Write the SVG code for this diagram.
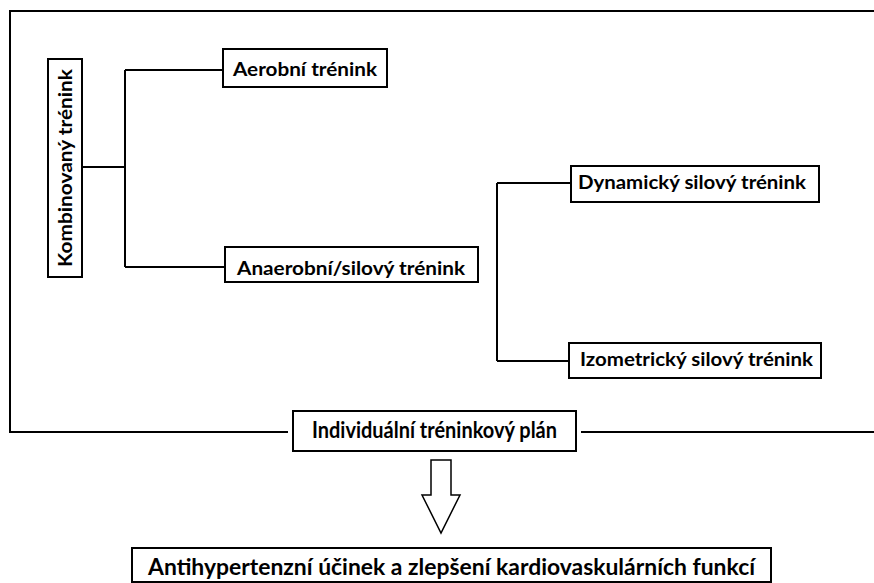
<svg xmlns="http://www.w3.org/2000/svg" width="874" height="583" viewBox="0 0 874 583">
<style>
.box{fill:#fff;stroke:#000;stroke-width:2}
.t{font-family:Lato,"Open Sans","Liberation Sans",sans-serif;font-weight:bold;font-size:19px;fill:#000}
.tb{font-family:Lato,"Open Sans","Liberation Sans",sans-serif;font-weight:bold;font-size:23px;fill:#000}
.ln{fill:none;stroke:#000;stroke-width:2}
</style>
<rect width="874" height="583" fill="#fff"/>
<g id="frame"><path class="ln" d="M874,11 H10 V432 H288 M581,432 H874"/></g>
<g id="connectors">
<path class="ln" d="M83,167 H125 M125,70 V267 M125,70 H223 M125,267 H225"/>
<path class="ln" d="M497,183 V361 M497,183 H571 M497,361 H569"/>
<polygon points="431,460 451,460 451,495 460,495 441,533 422,495 431,495" fill="#fff" stroke="#000" stroke-width="1.5"/>
</g>
<g id="kombinovany">
<rect class="box" x="48" y="59" width="34" height="218"/>
<text class="t" transform="translate(72,168) rotate(-90)" text-anchor="middle" textLength="198" lengthAdjust="spacingAndGlyphs">Kombinovaný trénink</text>
</g>
<g id="aerobni">
<rect class="box" x="223" y="49" width="164" height="38"/>
<text class="t" x="233" y="76" textLength="144" lengthAdjust="spacingAndGlyphs">Aerobní trénink</text>
</g>
<g id="anaerobni">
<rect class="box" x="225" y="247" width="253" height="35"/>
<text class="t" x="237" y="275" textLength="228" lengthAdjust="spacingAndGlyphs">Anaerobní/silový trénink</text>
</g>
<g id="dynamicky">
<rect class="box" x="571" y="166" width="248" height="36"/>
<text class="t" x="578" y="189" textLength="228" lengthAdjust="spacingAndGlyphs">Dynamický silový trénink</text>
</g>
<g id="izometricky">
<rect class="box" x="569" y="343" width="252" height="35"/>
<text class="t" x="580" y="366" textLength="233" lengthAdjust="spacingAndGlyphs">Izometrický silový trénink</text>
</g>
<g id="individualni">
<rect class="box" x="293" y="411" width="283" height="40"/>
<text class="tb" x="434.5" y="438" text-anchor="middle" textLength="245" lengthAdjust="spacingAndGlyphs">Individuální tréninkový plán</text>
</g>
<g id="antihypertenzni">
<rect class="box" x="132" y="548" width="639" height="34"/>
<text class="tb" x="451.5" y="575" text-anchor="middle" textLength="607" lengthAdjust="spacingAndGlyphs">Antihypertenzní účinek a zlepšení kardiovaskulárních funkcí</text>
</g>
</svg>
